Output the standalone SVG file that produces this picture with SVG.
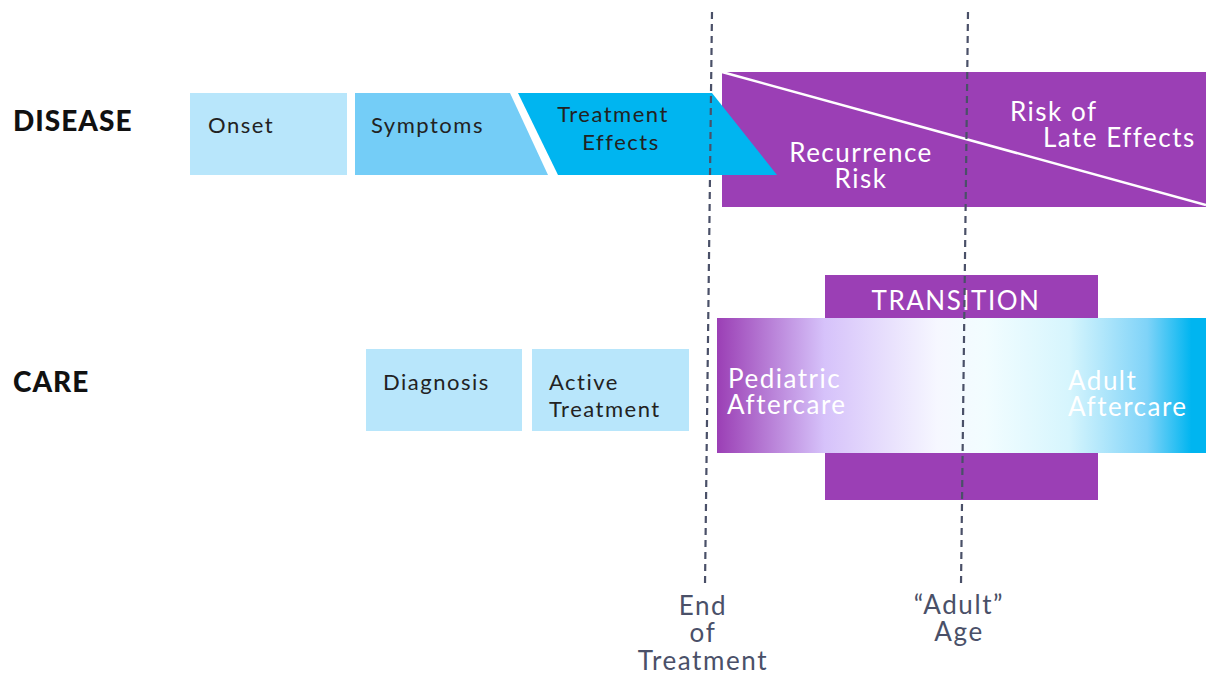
<svg xmlns="http://www.w3.org/2000/svg" width="1206" height="677" viewBox="0 0 1206 677">
<style>
.lbl{font-family:Lato,"Open Sans",sans-serif;font-weight:900;font-size:28px;letter-spacing:1px;fill:#111}
.t{font-family:Lato,"Open Sans",sans-serif;font-size:22px;letter-spacing:1.5px;fill:#222}
.w{font-family:Lato,"Open Sans",sans-serif;font-size:26px;letter-spacing:1.5px;fill:#fff}
.g{font-family:Lato,"Open Sans",sans-serif;font-size:26px;letter-spacing:1.6px;fill:#4a5068}
.dash{stroke:#4a5068;stroke-width:2.2;stroke-dasharray:7,5;fill:none}
</style>
<defs>
<linearGradient id="care" x1="0" y1="0" x2="1" y2="0">
<stop offset="0" stop-color="#9b3fb5"/>
<stop offset="0.22" stop-color="#d6c2fa"/>
<stop offset="0.45" stop-color="#f6f7ff"/>
<stop offset="0.55" stop-color="#f2fdff"/>
<stop offset="0.72" stop-color="#d6f5fd"/>
<stop offset="0.88" stop-color="#7fd3f8"/>
<stop offset="0.97" stop-color="#00b5f0"/>
<stop offset="1" stop-color="#00b5f0"/>
</linearGradient>
</defs>
<rect width="1206" height="677" fill="#fff"/>
<g id="label-disease"><text class="lbl" x="13" y="131">DISEASE</text></g>
<g id="label-care"><text class="lbl" x="13" y="392">CARE</text></g>
<g id="risk">
<rect x="722" y="72" width="484" height="135" fill="#9b3fb5"/>
<line x1="722" y1="72" x2="1206" y2="205" stroke="#fff" stroke-width="2.5"/>
<text class="w" x="861" y="162" text-anchor="middle">Recurrence</text>
<text class="w" x="861" y="188" text-anchor="middle">Risk</text>
<text class="w" x="1010" y="121">Risk of</text>
<text class="w" x="1043" y="147">Late Effects</text>
</g>
<g id="onset">
<rect x="190" y="93" width="157" height="82" fill="#b8e6fb"/>
<text class="t" x="208" y="133">Onset</text>
</g>
<g id="symptoms">
<polygon points="355,93 510,93 548,175 355,175" fill="#74cdf7"/>
<text class="t" x="371" y="133">Symptoms</text>
</g>
<g id="treatment-effects">
<polygon points="518,93 712,93 777,175 558,175" fill="#00b5f0"/>
<text class="t" x="613" y="122" text-anchor="middle">Treatment</text>
<text class="t" x="621" y="150" text-anchor="middle">Effects</text>
</g>
<g id="transition">
<rect x="825" y="275" width="273" height="225" fill="#9b3fb5"/>
<text class="w" x="956" y="310" text-anchor="middle" font-size="28" letter-spacing="2">TRANSITION</text>
</g>
<g id="aftercare">
<rect x="717" y="318" width="489" height="135" fill="url(#care)"/>
<text class="w" x="728" y="388">Pediatric</text>
<text class="w" x="727" y="414">Aftercare</text>
<text class="w" x="1068" y="390">Adult</text>
<text class="w" x="1068" y="416">Aftercare</text>
</g>
<g id="diagnosis">
<rect x="366" y="349" width="156" height="82" fill="#b8e6fb"/>
<text class="t" x="383" y="390">Diagnosis</text>
</g>
<g id="active-treatment">
<rect x="532" y="349" width="157" height="82" fill="#b8e6fb"/>
<text class="t" x="549" y="390">Active</text>
<text class="t" x="549" y="417">Treatment</text>
</g>
<g id="connectors">
<line class="dash" x1="712" y1="12" x2="705" y2="585"/>
<line class="dash" x1="968" y1="12" x2="961" y2="585"/>
</g>
<g id="milestones">
<text class="g" x="703" y="615" text-anchor="middle">End</text>
<text class="g" x="703" y="642" text-anchor="middle">of</text>
<text class="g" x="703" y="670" text-anchor="middle">Treatment</text>
<text class="g" x="959" y="614" text-anchor="middle">“Adult”</text>
<text class="g" x="959" y="641" text-anchor="middle">Age</text>
</g>
</svg>
